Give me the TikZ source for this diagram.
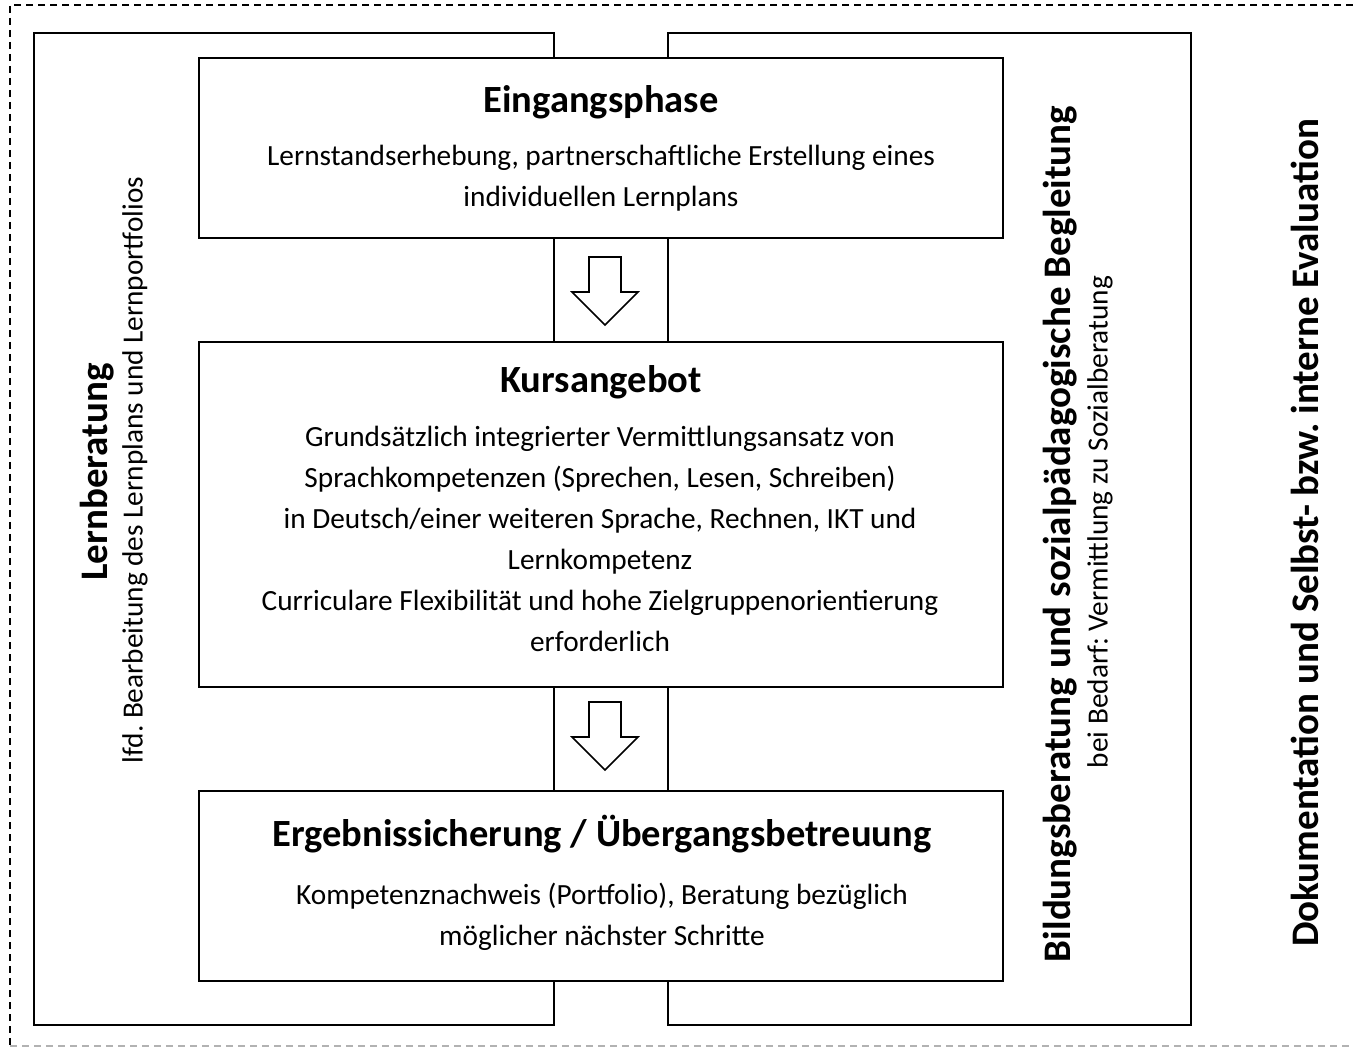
\documentclass[tikz,border=0pt]{standalone}
\usepackage{fontspec}
\setmainfont{Carlito}
\frenchspacing
\begin{document}
\begin{tikzpicture}[x=1pt,y=-1pt,
  frame/.style={draw=black,line width=2pt},
  phase/.style={draw=black,line width=2pt,fill=white,minimum width=804pt,anchor=north west,inner sep=0pt},
  ttl/.style={font={\fontsize{38.5}{42}\selectfont\bfseries},inner sep=0pt},
  body/.style={font={\fontsize{29.3}{41}\selectfont},align=center,inner sep=0pt},
  vttl/.style={font={\fontsize{39}{42}\selectfont\bfseries},rotate=90,inner sep=0pt},
  vbody/.style={font={\fontsize{29.3}{41}\selectfont},rotate=90,inner sep=0pt},
  blockarrow/.style={draw=black,line width=1.6pt,fill=white,line join=miter},
  dashline/.style={line width=1.5pt,dash pattern=on 7pt off 5pt}
]
\useasboundingbox (0,0) rectangle (1353,1048);
% outer dashed frame (right side lies outside the picture)
\coordinate (d1) at (1353,5);
\coordinate (d2) at (10,5);
\coordinate (d3) at (10,1046);
\coordinate (d4) at (1353,1046);
\draw[dashline] (d1) -- (d2) -- (d3);
\draw[dashline,draw=black!30] (d3) -- (d4);
% side frames
\node[frame,anchor=north west,minimum width=520pt,minimum height=992pt,inner sep=0pt] (lframe) at (33,32) {};
\node[frame,anchor=north west,minimum width=523pt,minimum height=992pt,inner sep=0pt] (rframe) at (667,32) {};
% phase boxes
\node[phase,minimum height=180pt] (p1) at (198,57) {};
\node[phase,minimum height=345pt] (p2) at (198,341) {};
\node[phase,minimum height=190pt] (p3) at (198,790) {};
% texts
\node[ttl] (t1) at (601,102) {Eingangsphase};
\node[body] (b1) at (601,178) {Lernstandserhebung, partnerschaftliche Erstellung eines\\individuellen Lernplans};
\node[ttl] (t2) at (601,382) {Kursangebot};
\node[body] (b2) at (600,539) {Grundsätzlich integrierter Vermittlungsansatz von\\Sprachkompetenzen (Sprechen, Lesen, Schreiben)\\in Deutsch/einer weiteren Sprache, Rechnen, IKT und\\Lernkompetenz\\Curriculare Flexibilität und hohe Zielgruppenorientierung\\erforderlich};
\node[ttl] (t3) at (602,834) {Ergebnissicherung / Übergangsbetreuung};
\node[body] (b3) at (602,917) {Kompetenznachweis (Portfolio), Beratung bezüglich\\möglicher nächster Schritte};
% vertical texts
\node[vttl] (v1) at (97,472) {Lernberatung};
\node[vbody] (v2) at (135,470) {lfd. Bearbeitung des Lernplans und Lernportfolios};
\node[vttl] (v3) at (1060,534) {Bildungsberatung und sozialpädagogische Begleitung};
\node[vbody] (v4) at (1100,522) {bei Bedarf: Vermittlung zu Sozialberatung};
\node[vttl] (v5) at (1305,533) {Dokumentation und Selbst- bzw. interne Evaluation};
% block arrows
\coordinate (a1) at (605,257);
\coordinate (a2) at (605,702);
\foreach \a in {a1,a2}{
  \draw[blockarrow] (\a) ++(-16,0) -- ++(32,0) -- ++(0,35) -- ++(17,0) -- ++(-33,33) -- ++(-33,-33) -- ++(17,0) -- cycle;
}
\end{tikzpicture}
\end{document}
